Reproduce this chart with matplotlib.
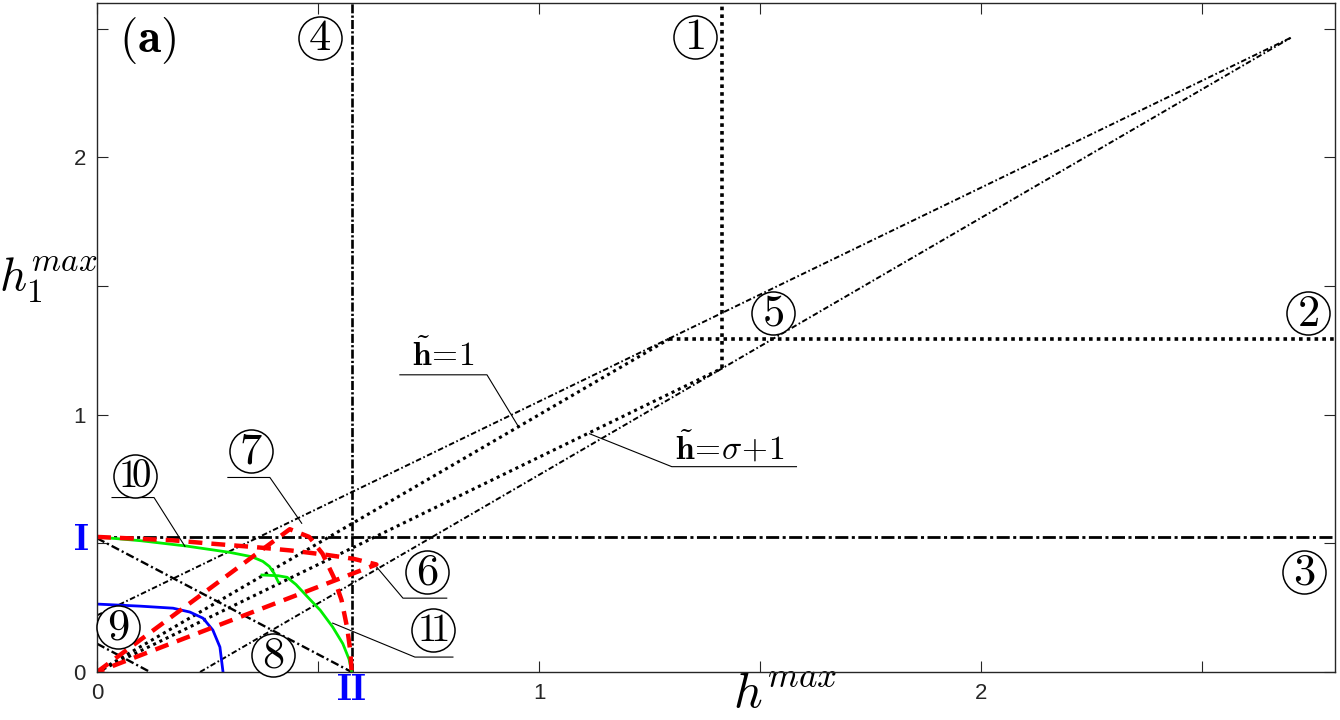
import numpy as np
import matplotlib
matplotlib.use("Agg")
import matplotlib.pyplot as plt

plt.rcParams['mathtext.fontset'] = 'cm'
plt.rcParams['lines.scale_dashes'] = False

# ---------------- data ----------------
x_lim = [0.0, 2.8]
y_lim = [0.0, 2.6]
x_ticks = [0.0, 0.5, 1.0, 1.5, 2.0, 2.5]
x_ticklabels = ['0', '', '1', '', '2', '']
y_ticks = [0.0, 0.5, 1.0, 1.5, 2.0, 2.5]
y_ticklabels = ['0', '', '1', '', '2', '']

# straight boundary lines (x pairs, y pairs)
line4_x = [0.576, 0.576];  line4_y = [0.0, 2.6]      # vertical dash-dot (4)
line3_x = [0.0, 2.8];      line3_y = [0.525, 0.525]  # horizontal dash-dot (3)
line1_x = [1.413, 1.413];  line1_y = [1.18, 2.6]     # vertical dotted (1)
line2_x = [1.294, 2.8];    line2_y = [1.294, 1.294]  # horizontal dotted (2)
upper_dd_x = [0.0, 2.70];  upper_dd_y = [0.22, 2.465]   # upper long dash-dot
lower_dd_x = [0.233, 2.70]; lower_dd_y = [0.0, 2.465]   # lower long dash-dot
dot_h1_x = [0.0, 1.294];   dot_h1_y = [0.0, 1.294]      # h~ = 1
dot_hs_x = [0.0, 1.413];   dot_hs_y = [0.0, 1.18]       # h~ = sigma + 1
line8_x = [0.0, 0.576];    line8_y = [0.52, 0.0]        # I -> II
line9_x = [0.0, 0.12];     line9_y = [0.11, 0.0]

# red dashed curves
redA_x = [0.0, 0.436, 0.48, 0.51, 0.535, 0.553, 0.566, 0.573, 0.576]
redA_y = [0.0, 0.555, 0.525, 0.46, 0.37, 0.28, 0.17, 0.08, 0.0]
redB_x = [0.0, 0.17, 0.25, 0.36, 0.44, 0.52, 0.58, 0.632, 0.0]
redB_y = [0.525, 0.512, 0.50, 0.485, 0.472, 0.455, 0.44, 0.418, 0.0]

# green curves
green1_x = [0.0, 0.1, 0.2, 0.3, 0.35, 0.375, 0.39, 0.40, 0.41]
green1_y = [0.525, 0.51, 0.49, 0.465, 0.448, 0.43, 0.41, 0.385, 0.35]
green2_x = [0.373, 0.41, 0.43, 0.45, 0.48, 0.505, 0.533, 0.556, 0.57, 0.576]
green2_y = [0.377, 0.374, 0.368, 0.34, 0.285, 0.24, 0.175, 0.11, 0.05, 0.0]

# blue curve
blue_x = [0.0, 0.097, 0.172, 0.21, 0.24, 0.262, 0.278, 0.285]
blue_y = [0.264, 0.256, 0.248, 0.233, 0.209, 0.163, 0.097, 0.0]

circled_labels = ['1', '2', '3', '4', '5', '6', '7', '8', '9', '10', '11']

# ---------------- figure ----------------
fig = plt.figure(figsize=(13.4, 7.2), dpi=100)
ax = fig.add_axes([97/1340, 1-672/720, (1335-97)/1340, (672-3)/720])
ax.set_xlim(x_lim)
ax.set_ylim(y_lim)

K = 'black'
ax.plot(line4_x, line4_y, color=K, lw=1.9, ls=(0, (6.5, 1.6, 1.6, 1.6)))
ax.plot(line3_x, line3_y, color=K, lw=2.0, ls=(0, (9.4, 2.5, 2.2, 2.5)))
ax.plot(line1_x, line1_y, color=K, lw=2.6, ls=(0, (2.6, 3.0)))
ax.plot(line2_x, line2_y, color=K, lw=2.6, ls=(0, (2.6, 3.0)))
ax.plot(upper_dd_x, upper_dd_y, color=K, lw=1.4, ls=(0, (4.0, 1.8, 1.2, 1.8)))
ax.plot(lower_dd_x, lower_dd_y, color=K, lw=1.4, ls=(0, (4.0, 1.8, 1.2, 1.8)))
ax.plot(dot_h1_x, dot_h1_y, color=K, lw=2.2, ls=(0, (2.2, 2.8)))
ax.plot(dot_hs_x, dot_hs_y, color=K, lw=2.2, ls=(0, (2.2, 2.8)))
ax.plot(line8_x, line8_y, color=K, lw=1.7, ls=(0, (6.0, 2.2, 1.5, 2.2)))
ax.plot(line9_x, line9_y, color=K, lw=1.7, ls=(0, (6.0, 2.2, 1.5, 2.2)))

ax.plot(blue_x, blue_y, color='#0000ff', lw=2.0)
ax.plot(green1_x, green1_y, color='#00ee00', lw=2.0)
ax.plot(green2_x, green2_y, color='#00ee00', lw=2.0)
ax.plot(redA_x, redA_y, color='#ff0000', lw=3.2, ls=(0, (10.0, 6.5)))
ax.plot(redB_x, redB_y, color='#ff0000', lw=3.2, ls=(0, (10.0, 6.5)))

# ---------------- axes styling ----------------
GR = '#262626'
for s in ax.spines.values():
    s.set_color(GR)
    s.set_linewidth(1.0)
ax.set_xticks(x_ticks)
ax.set_xticklabels(x_ticklabels)
ax.set_yticks(y_ticks)
ax.set_yticklabels(y_ticklabels)
ax.tick_params(direction='in', length=8, width=0.8, color=GR, top=True, right=True,
               labelsize=16, labelcolor=GR, pad=8)
for lab in ax.get_xticklabels() + ax.get_yticklabels():
    lab.set_fontfamily('Liberation Sans')

ax.set_xlabel(r'$h^{max}$', fontsize=36)
ax.xaxis.set_label_coords(0.556, -0.032)
ax.xaxis.label.set_va('center')
ax.set_ylabel(r'$h_1^{max}$', fontsize=34, rotation=0)
ax.yaxis.set_label_coords(-0.039, 0.586)
ax.yaxis.label.set_va('center')
ax.yaxis.label.set_ha('center')

# ---------------- annotations ----------------
circ_pos = {
    '1': (1.352, 2.469), '2': (2.740, 1.395), '3': (2.731, 0.388),
    '4': (0.504, 2.465), '5': (1.528, 1.395), '6': (0.746, 0.388),
    '7': (0.348, 0.857), '8': (0.398, 0.066), '9': (0.047, 0.174),
    '10': (0.086, 0.760), '11': (0.760, 0.163),
}
for lab in circled_labels:
    cx, cy = circ_pos[lab]
    ax.plot([cx], [cy], marker='o', ms=31, mfc='white', mec='black', mew=1.1,
            ls='none', zorder=5, clip_on=False)
    if len(lab) == 1:
        txt = r'$' + lab + r'$'
        fs = 32
    else:
        txt = r'$' + lab[0] + r'\!' + lab[1] + r'$'
        fs = 28
    ax.text(cx, cy, txt, fontsize=fs, ha='center', va='center', zorder=6)

# leader lines (underline + pointer)
leaders = [
    ([0.296, 0.391, 0.463], [0.756, 0.756, 0.578]),   # 7
    ([0.034, 0.129, 0.199], [0.678, 0.678, 0.488]),   # 10
    ([0.791, 0.692, 0.633], [0.287, 0.287, 0.407]),   # 6
    ([0.805, 0.719, 0.533], [0.058, 0.058, 0.19]),    # 11
    ([0.685, 0.882, 0.952], [1.155, 1.155, 0.957]),   # h~=1
    ([1.582, 1.300, 1.114], [0.798, 0.798, 0.926]),   # h~=sigma+1
]
for lx, ly in leaders:
    ax.plot(lx, ly, color='black', lw=0.8, zorder=4)

ax.text(0.782, 1.229, r'$\tilde{\mathbf{h}}\!=\!\mathbf{1}$', fontsize=24,
        ha='center', va='center')
ax.text(1.431, 0.868, r'$\tilde{\mathbf{h}}\!=\!\sigma\!+\!\mathbf{1}$', fontsize=24,
        ha='center', va='center')

ax.text(0.115, 2.453, r'$(\mathbf{a})$', fontsize=34, ha='center', va='center')
ax.text(-0.036, 0.512, r'$\mathbf{I}$', fontsize=27, color='#0000ff',
        ha='center', va='center', clip_on=False)
ax.text(0.576, -0.07, r'$\mathbf{II}$', fontsize=27, color='#0000ff',
        ha='center', va='center', clip_on=False)

fig.savefig('out.png', dpi=100)
